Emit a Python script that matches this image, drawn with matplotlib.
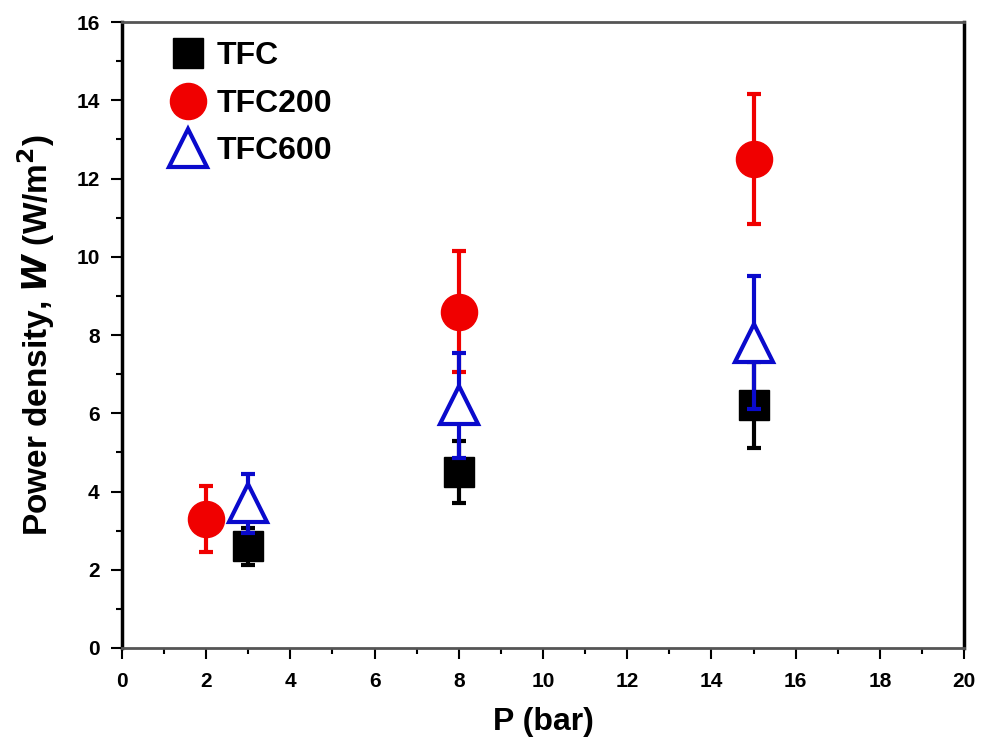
import matplotlib
matplotlib.use("Agg")
import matplotlib.pyplot as plt
from matplotlib.ticker import MultipleLocator

plt.rcParams['font.family'] = ['Liberation Sans', 'DejaVu Sans']
plt.rcParams['font.weight'] = 'bold'

# data
p_tfc = [3, 8, 15]
w_tfc = [2.6, 4.5, 6.2]
err_tfc = [0.47, 0.8, 1.1]

p_tfc200 = [2, 8, 15]
w_tfc200 = [3.3, 8.6, 12.5]
err_tfc200 = [0.85, 1.55, 1.65]

p_tfc600 = [3, 8, 15]
w_tfc600 = [3.7, 6.2, 7.8]
err_tfc600 = [0.75, 1.35, 1.7]

fig = plt.figure(figsize=(9.82, 7.52), dpi=100)
ax = fig.add_axes([0.1242, 0.1383, 0.8575, 0.8324])

ax.errorbar(p_tfc, w_tfc, yerr=err_tfc, fmt='s', color='black', ms=22,
            elinewidth=3, capsize=5, capthick=3, label='TFC', zorder=3)
ax.errorbar(p_tfc200, w_tfc200, yerr=err_tfc200, fmt='o', color='#f00000', ms=26,
            elinewidth=3, capsize=5, capthick=3, label='TFC200', zorder=4)
ax.errorbar(p_tfc600, w_tfc600, yerr=err_tfc600, fmt='^', color='#0a0acc', ms=28,
            mfc='white', mec='#0a0acc', mew=3, elinewidth=3, capsize=5, capthick=3,
            label='TFC600', zorder=5)

ax.set_xlim(0, 20)
ax.set_ylim(0, 16)
ax.xaxis.set_major_locator(MultipleLocator(2))
ax.xaxis.set_minor_locator(MultipleLocator(1))
ax.yaxis.set_major_locator(MultipleLocator(2))
ax.yaxis.set_minor_locator(MultipleLocator(1))
ax.tick_params(which='major', direction='out', length=8, width=1.5, labelsize=15, pad=9)
ax.tick_params(axis='y', which='major', pad=8)
ax.tick_params(which='minor', direction='out', length=4, width=1.5)
for lab in ax.get_xticklabels() + ax.get_yticklabels():
    lab.set_fontweight('bold')

for s in ['left', 'right']:
    ax.spines[s].set_linewidth(2.5)
    ax.spines[s].set_color('black')
for s in ['top', 'bottom']:
    ax.spines[s].set_linewidth(2)
    ax.spines[s].set_color('#555555')

ax.set_xlabel('P (bar)', fontsize=23, fontweight='bold', labelpad=12)
ax.set_ylabel(r'Power density, $\boldsymbol{W}$ (W/m$^\mathbf{2}$)', fontsize=24,
              fontweight='bold', labelpad=14)

handles, labels = ax.get_legend_handles_labels()
handles = [h[0] for h in handles]
leg = ax.legend(handles, labels, loc='upper left', frameon=False, fontsize=23,
                handlelength=1.1, handletextpad=0.35, labelspacing=0.55,
                borderaxespad=0.2, bbox_to_anchor=(0.035, 1.0))

fig.savefig('out.png', dpi=100)
